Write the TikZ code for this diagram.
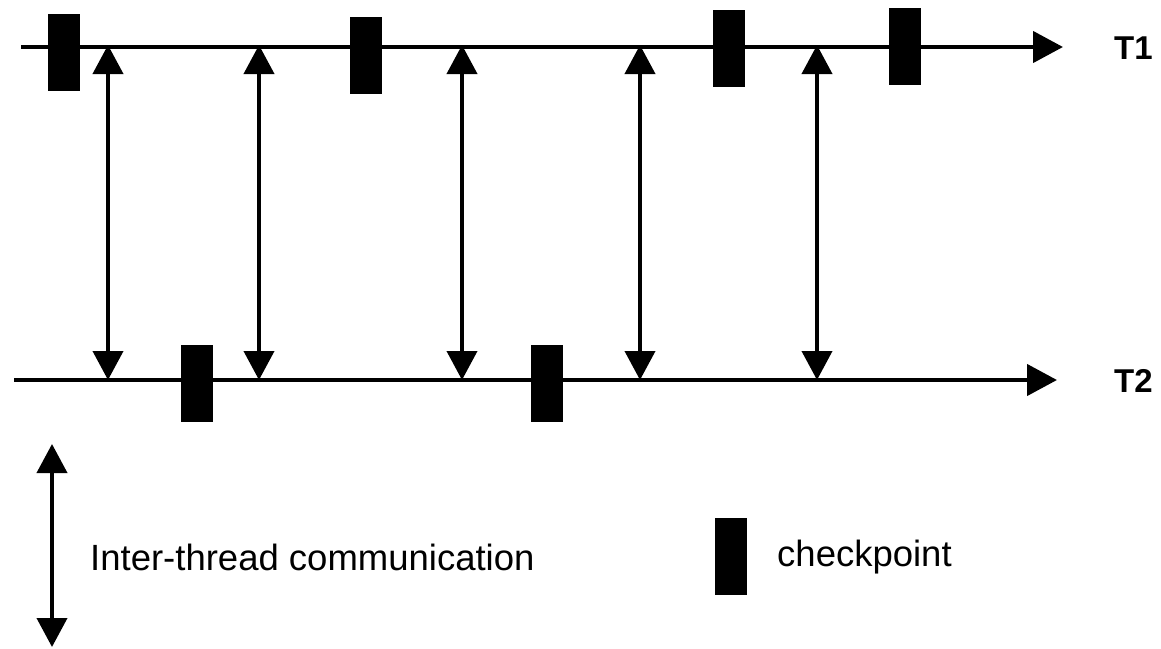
\documentclass[tikz,border=0pt]{standalone}
\usepackage{fontspec}
\setmainfont{Liberation Sans}
\usetikzlibrary{arrows.meta}
\begin{document}
\begin{tikzpicture}[x=1pt,y=-1pt,
  thread/.style={line width=4.5pt,-{Triangle[length=30pt,width=31pt]}},
  comm/.style={line width=4pt,{Triangle[length=29pt,width=30pt]}-{Triangle[length=29pt,width=30pt]}},
  ckpt/.style={fill=black,draw=none,minimum width=32pt,minimum height=77pt,inner sep=0pt},
  lbl/.style={font=\fontsize{33}{33}\selectfont\bfseries,inner sep=0pt,anchor=west},
  txt/.style={font=\fontsize{36.5}{36.5}\selectfont,inner sep=0pt,anchor=west}]
\useasboundingbox (0,0) rectangle (1161,648);
% threads
\coordinate (t1s) at (21,47);
\coordinate (t1e) at (1063,47);
\coordinate (t2s) at (14,380);
\coordinate (t2e) at (1057,380);
\draw[thread] (t1s) -- (t1e);
\draw[thread] (t2s) -- (t2e);
\node[lbl] (T1) at (1114,48) {T1};
\node[lbl] (T2) at (1114,381) {T2};
% communications
\foreach \i/\x in {1/108,2/259,3/462,4/640,5/817}{
  \coordinate (c\i t) at (\x,45);
  \coordinate (c\i b) at (\x,380);
  \draw[comm] (c\i t) -- (c\i b);
}
% checkpoints on T1
\node[ckpt] (k1) at (64,52) {};
\node[ckpt] (k2) at (366,55) {};
\node[ckpt] (k3) at (729,48) {};
\node[ckpt] (k4) at (905,46) {};
% checkpoints on T2
\node[ckpt] (k5) at (197,383) {};
\node[ckpt] (k6) at (547,383) {};
% legend
\coordinate (lt) at (52,444);
\coordinate (lb) at (52,647);
\draw[comm] (lt) -- (lb);
\node[txt] (lcomm) at (90,557) {Inter-thread communication};
\node[ckpt] (lk) at (731,556) {};
\node[txt] (lck) at (777,557) {checkpoint};
\end{tikzpicture}
\end{document}
